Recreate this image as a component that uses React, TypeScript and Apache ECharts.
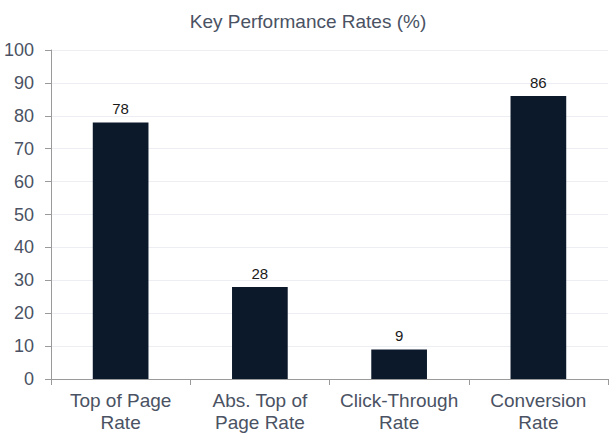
import React, { useEffect, useRef } from "react";
import * as echarts from "echarts";

const categories = ["Top of Page\nRate", "Abs. Top of\nPage Rate", "Click-Through\nRate", "Conversion\nRate"];
const values = [78, 28, 9, 86];
const yTicks = { min: 0, max: 100, interval: 10 };
const title = "Key Performance Rates (%)";

const FONT = "Liberation Sans, Arial, sans-serif";

export default function App() {
  const ref = useRef<HTMLDivElement>(null);
  useEffect(() => {
    document.body.style.margin = "0";
    const chart = echarts.init(ref.current!, null, { renderer: "svg" });
    chart.setOption({
      animation: false,
      backgroundColor: "#ffffff",
      title: {
        text: title,
        left: "center",
        top: 7,
        textStyle: { fontFamily: FONT, fontSize: 19, fontWeight: "normal", color: "#4a5263" },
      },
      grid: { left: 51, right: 8, top: 50, bottom: 64, containLabel: false },
      xAxis: {
        type: "category",
        data: categories,
        axisLine: { show: true, lineStyle: { color: "#9a9a9a", width: 1 } },
        axisTick: { show: true, length: 6, alignWithLabel: false, lineStyle: { color: "#9a9a9a" } },
        axisLabel: {
          fontFamily: FONT,
          fontSize: 19,
          color: "#4a5263",
          margin: 10,
          lineHeight: 22,
          interval: 0,
        },
      },
      yAxis: {
        type: "value",
        min: yTicks.min,
        max: yTicks.max,
        interval: yTicks.interval,
        axisLine: { show: true, lineStyle: { color: "#9a9a9a", width: 1 } },
        axisTick: { show: true, length: 6, lineStyle: { color: "#9a9a9a" } },
        axisLabel: { fontFamily: FONT, fontSize: 18, color: "#4a5263", margin: 17 },
        splitLine: { show: true, lineStyle: { color: "#eceef4", width: 1 } },
      },
      series: [
        {
          type: "bar",
          data: values,
          barWidth: "40%",
          itemStyle: { color: "#0c192b" },
          label: {
            show: true,
            position: "top",
            distance: 6,
            fontFamily: FONT,
            fontSize: 15,
            color: "#1a1a1a",
          },
        },
      ],
    });
    return () => chart.dispose();
  }, []);
  return <div ref={ref} style={{ width: 616, height: 443 }} />;
}
